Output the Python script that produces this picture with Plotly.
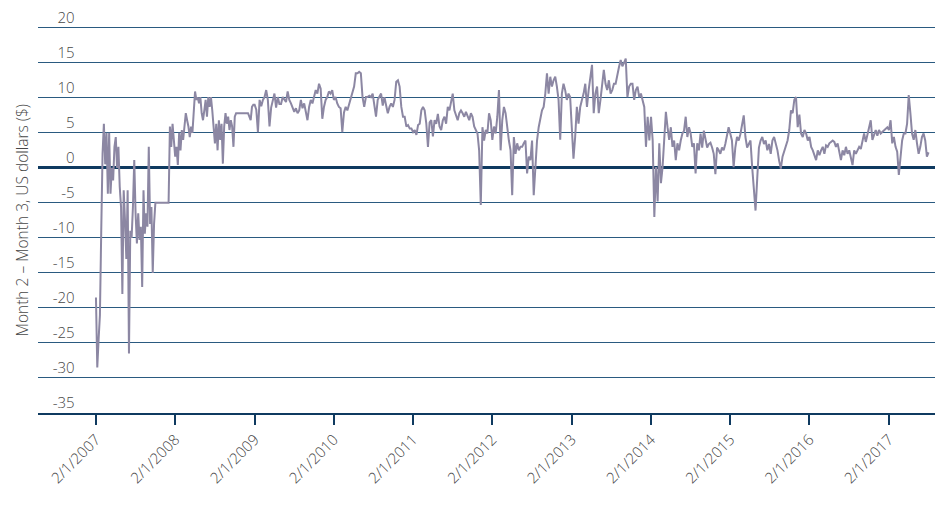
import pandas as pd
import plotly.graph_objects as go

# Segment boundaries (each yearly list is evenly spaced between consecutive boundaries)
seg_bounds = ["2007-02-01", "2008-02-01", "2009-02-01", "2010-02-01", "2011-02-01",
              "2012-02-01", "2013-02-01", "2014-02-01", "2015-02-01", "2016-02-01",
              "2017-02-01", "2017-08-10"]

v2007 = [-18.5, -28.5, -24.5, -21, -9, 2, 6.3, 0.5, 5, -3.7,
         5, -3.7, 0, -1.8, 3, 4.4, 0, 3, -2.7, -5.6,
         -18, -3.2, -7.5, -13, -3.2, -26.5, -9, -10, -5.6, 1.1,
         -6.5, -10.8, -6.5, -10.3, -8.4, -17, -3.2, -9.4, -6.5, -8.4,
         3, -8, -5.6, -15, -8, -5, -5, -5, -5, -5,
         -5, -5, -5, -5, -5, -5, 5.9, 3, 6.3, 4]
v2008 = [1.6, 3, 0.4, 5, 2.5, 5.4, 4, 5.9, 7.8, 6.8,
         5.9, 4.4, 5.9, 5, 7.3, 10.9, 9.7, 10.1, 9.2, 10.1,
         7.8, 6.8, 8.2, 9.7, 7.3, 10.1, 8.7, 10.1, 8.2, 5.9,
         3.5, 6.3, 2.5, 6.8, 4, 6.3, 0.6, 5.9, 7.8, 6.3,
         7.3, 5.4, 6.8, 5.9, 3, 7.3, 7.8, 7.8, 7.8, 7.8,
         7.8, 7.8, 7.8, 7.8, 7.8, 7.8, 7.3, 6.8, 8.7, 9]
v2009 = [9, 8.3, 5.1, 9.7, 8.8, 9.7, 10.1, 11.1, 9.7, 5.9,
         8.6, 9.5, 10.6, 8.6, 10.1, 9.1, 9.1, 10.1, 9.7, 9.4,
         10.9, 9.7, 9.2, 8.7, 8, 8.5, 7.8, 8.2, 9.7, 8.5,
         9.2, 8, 6.8, 8.7, 9.7, 9.2, 10.1, 11.1, 10.6, 12,
         11.3, 7, 8.7, 9.7, 10.1, 10.9, 10.6, 11.1]
v2010 = [9.7, 10.1, 9.2, 8.7, 8.5, 5.1, 7.9, 8.7, 8.2, 9,
         9.7, 10.6, 11.6, 13.5, 13.5, 13.7, 13.5, 10.1, 8.7, 10.1,
         10.1, 10.3, 10.1, 10.6, 8.7, 7.3, 9.7, 10.1, 10.6, 8.9,
         10.1, 8.9, 7.8, 8.7, 9.2, 8.7, 9.7, 12.3, 12.5, 11.6,
         8.7, 7.3, 7.3, 5.9, 6.1, 5.6, 5.6]
v2011 = [5.1, 5.4, 4.7, 6.1, 6.3, 8.2, 8.7, 8.2, 6.3, 3,
         6.5, 6.8, 4.5, 6.8, 6.3, 7.7, 5.9, 5.4, 6.8, 7.3,
         6.3, 8.7, 8.2, 9.2, 10.6, 8.2, 7.3, 6.8, 7.8, 8.2,
         7.8, 7.3, 8, 7.3, 6.8, 7.8, 7.3, 5.9, 5.4, 4.9,
         2.5, -5.3, 5.8, 3.9, 5.4, 4.9, 7.8, 6.8]
v2012 = [4.0, 5.9, 4.9, 7.3, 11.1, 2.5, 6.8, 8.7, 7.8, 5.4,
         3.9, 2.5, -3.9, 4.4, 2, 3.5, 2.5, 3, 3, 3.5,
         3.9, -0.8, 1.6, 1.1, 3.9, -3.9, 0.1, 3.9, 5.8, 7.3,
         8.2, 8.7, 10.6, 13.5, 10.6, 13, 11.6, 12.5, 13, 11.6,
         9.7, 4, 10.6, 12, 11.1, 9.7, 10.6, 10.1]
v2013 = [6.3, 1.3, 4.4, 8.7, 6.3, 8.7, 9.7, 10.6, 12, 8.7,
         11.1, 13, 14.7, 7.8, 10.6, 11.6, 7.8, 9.7, 11.6, 14,
         12, 11.1, 12.5, 10.6, 11.1, 12, 12, 13.5, 14.4, 15.4,
         14.5, 15, 15.6, 10.1, 11.6, 12, 12, 9.7, 11.1, 11.6,
         10.1, 10.6, 9.7, 8.7, 3, 7.3, 3.9]
v2014 = [7.3, 3.9, -7, 0.1, -4.8, 3.5, -2.2, 0.1, 4, 8,
         5.8, 4, 5.8, 3, 3.9, 1.1, 3.5, 2.5, 3.9, 4.9,
         5.3, 7.3, 4.4, 5.8, 4.9, 3, 3.5, -0.8, 3.5, 2.5,
         4.9, 2.9, 5.3, 3.9, 2.9, 3.4, 3.6, 2.9, 2, -0.9,
         2.9, 2.5, 2, 2.9, 2.5, 3.4, 4.4, 5.8]
v2015 = [4.9, 3.9, 0.1, 2.9, 4.4, 3.9, 4.8, 6.3, 7.5, 4.4,
         2.9, 3.4, 3.9, 0.1, -2.7, -6.1, -1.5, 2.9, 3.9, 4.4,
         3.4, 3.9, 2.5, 3.4, 2, 3.9, 4.4, 3.4, 2.5, 1,
         -0.1, 1.6, 2.5, 3, 3.9, 5.4, 8.2, 7.8, 9.7, 10.1,
         5.8, 7.6, 4.9, 4.4, 5.4, 4.9, 3.9]
v2016 = [4.4, 3, 2.5, 1.6, 1.1, 2.5, 1.8, 2.5, 3, 2,
         3.2, 3, 3.5, 3.7, 3.9, 3.7, 3, 3.5, 2, 1.1,
         2.5, 1.8, 3, 2, 2.5, 1.6, 0.4, 2.5, 2, 2.5,
         3, 2.7, 3.9, 4.9, 3.7, 4.6, 5.8, 6.8, 4, 4.9,
         5.4, 4.6, 5.4, 4.9, 5.1, 5.4, 5.6, 5.8]
v2017 = [5.4, 6.8, 3.5, 4.4, 3, 2.3, -1, 2, 3.9, 4.9,
         4.9, 6.3, 10.4, 7.8, 4.9, 4, 5.4, 3.5, 2, 3,
         4.4, 4.9, 3.9, 1.6, 2.2]

segments = [v2007, v2008, v2009, v2010, v2011, v2012, v2013, v2014, v2015, v2016, v2017]

tick_dates = ["2007-02-01", "2008-02-01", "2009-02-01", "2010-02-01", "2011-02-01",
              "2012-02-01", "2013-02-01", "2014-02-01", "2015-02-01", "2016-02-01",
              "2017-02-01"]
tick_labels = ["2/1/2007", "2/1/2008", "2/1/2009", "2/1/2010", "2/1/2011",
               "2/1/2012", "2/1/2013", "2/1/2014", "2/1/2015", "2/1/2016",
               "2/1/2017"]
y_ticks = [20, 15, 10, 5, 0, -5, -10, -15, -20, -25, -30, -35]
y_tick_labels = ["20", "15", "10", "5", "0", "-5", "-10", "-15", "-20", "-25", "-30", "-35"]
y_title = "Month 2 – Month 3, US dollars ($)"

dates, values = [], []
for i, seg in enumerate(segments):
    rng = pd.date_range(seg_bounds[i], seg_bounds[i + 1], periods=len(seg) + 1)[:-1]
    dates.extend(rng)
    values.extend(seg)

navy = "#0f3a60"
grid = "#2a5a80"
txt = "#474747"
font_fam = "Open Sans, Noto Sans, sans-serif"

fig = go.Figure()
fig.add_trace(go.Scatter(x=dates, y=values, mode="lines",
                         line=dict(color="#8c87a3", width=2),
                         hoverinfo="skip", showlegend=False))

# page body adds an 8px offset; figure sized/margined to compensate
fig.update_layout(
    width=935, height=501,
    margin=dict(l=30, r=5, t=18, b=96, autoexpand=False),
    paper_bgcolor="white", plot_bgcolor="white",
    font=dict(family=font_fam, color=txt, size=15, weight=300),
    xaxis=dict(
        type="date",
        range=["2006-05-10", "2017-09-15"],
        tickvals=tick_dates, ticktext=tick_labels,
        tickangle=-45,
        ticks="outside", ticklen=10, tickwidth=2, tickcolor=navy,
        showline=True, linecolor=navy, linewidth=2,
        showgrid=False, zeroline=False,
        tickfont=dict(family=font_fam, size=15, color=txt, weight=300),
    ),
    yaxis=dict(
        range=[-35, 20.25],
        tickvals=y_ticks, ticktext=y_tick_labels,
        anchor="free", position=0.0407,
        ticks="", showline=False,
        showgrid=True, gridcolor=grid, gridwidth=1,
        zeroline=True, zerolinecolor=navy, zerolinewidth=3,
        ticklabelshift=-10,
        ticklabeloverflow="allow",
        tickfont=dict(family=font_fam, size=15, color=txt, weight=300),
    ),
    annotations=[dict(
        text=y_title, textangle=-90, showarrow=False,
        xref="paper", yref="paper", x=-0.0178, y=0.5,
        xanchor="center", yanchor="middle",
        font=dict(family=font_fam, size=15.5, color=txt, weight=300),
    )],
)

fig.write_html("out.html")
